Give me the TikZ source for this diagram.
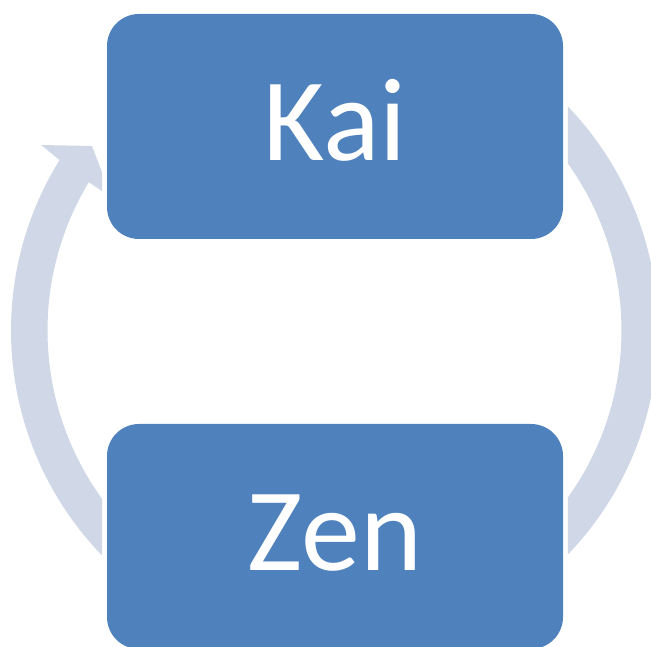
\documentclass[tikz,border=0pt]{standalone}
\usepackage{fontspec}
\setmainfont{Carlito}
\usetikzlibrary{calc}
\definecolor{ringc}{HTML}{D0D8E8}
\definecolor{boxc}{HTML}{4F81BD}
\begin{document}
\begin{tikzpicture}[x=1pt,y=1pt,
  stagebox/.style={fill=boxc, draw=none, rounded corners=32pt, minimum width=456pt, minimum height=225pt, inner sep=0pt, text=white, font=\fontsize{118}{118}\selectfont, text height=77pt, text depth=9pt},
  ringband/.style={fill=ringc, draw=none}]
\useasboundingbox (0,0) rectangle (651,646);
\coordinate (C) at (334.5,315.5);
% right band (Kai -> Zen)
\fill[ringband] (C) ++(43.8:323.5) arc[start angle=43.8, end angle=-43.8, radius=323.5]
  -- ($(C)+(-35.55:287)$) arc[start angle=-35.55, end angle=35.55, radius=287] -- cycle;
% left band with arrowhead (Zen -> Kai)
\fill[ringband] (C) ++(224.05:323.5) arc[start angle=224.05, end angle=148.2, radius=323.5]
  -- (41,501) -- (92,500) -- (102,474) -- (102,455)
  -- ($(C)+(148.9:287)$) arc[start angle=148.9, end angle=215.9, radius=287] -- cycle;
\node[stagebox] (kai) at (335,519.5) {Kai};
\node[stagebox] (zen) at (335,109.5) {Zen};
\end{tikzpicture}
\end{document}
